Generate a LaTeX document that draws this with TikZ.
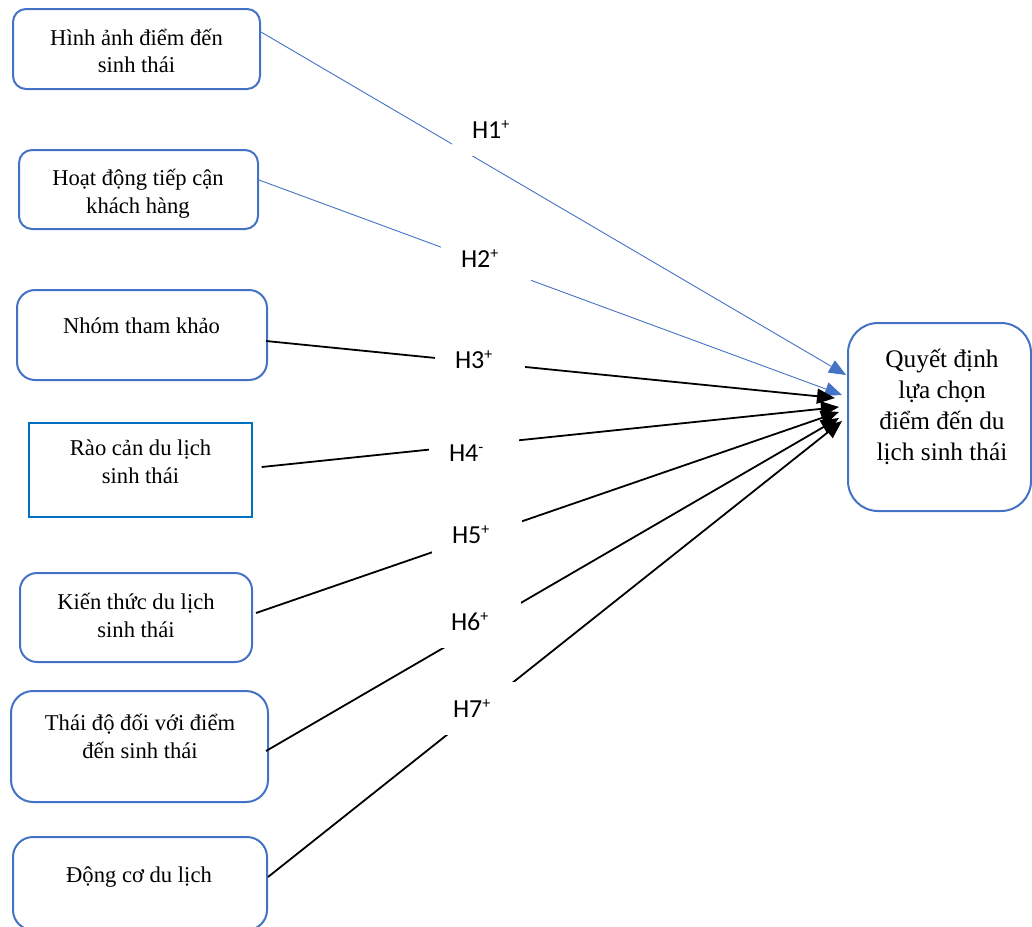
\documentclass[tikz,border=0pt]{standalone}
\usepackage{fontspec}
\setmainfont{Liberation Serif}
\newfontfamily\labfont{Carlito}
\usetikzlibrary{arrows.meta}
\definecolor{wblue}{HTML}{4472C4}
\definecolor{rblue}{HTML}{0070C0}
\newcommand{\supmark}[1]{\raisebox{9pt}{\fontsize{16}{16}\selectfont #1}}
\tikzset{
  box/.style={draw=wblue, line width=2pt, rounded corners=#1, inner sep=0pt},
  box/.default=15pt,
  sqbox/.style={draw=rblue, line width=1.4pt, inner sep=0pt},
  txt/.style={align=center, font=\fontsize{22.6}{27.7}\selectfont, inner sep=0pt, anchor=base},
  bigtxt/.style={align=center, font=\fontsize{25.3}{30.7}\selectfont, inner sep=0pt, anchor=base},
  lbl/.style={fill=white, minimum width=90pt, minimum height=53pt, text width=50pt, align=left,
              inner xsep=20pt, inner ysep=0pt, font=\labfont\fontsize{26}{28}\selectfont},
  blueline/.style={draw=wblue, line width=0.9pt, -{Triangle[length=17pt,width=14pt]}},
  blackline/.style={draw=black, line width=1.8pt, -{Triangle[length=18pt,width=15pt]}},
}
\begin{document}
\begin{tikzpicture}[x=1pt,y=-1pt]
\useasboundingbox (0,0) rectangle (1032,926);
% boxes
\node[box=13pt, minimum width=247pt, minimum height=80pt] (b1) at (136.5,49) {};
\node[box=13pt, minimum width=239pt, minimum height=79pt] (b2) at (138.5,189.5) {};
\node[box=18pt, minimum width=250pt, minimum height=90pt] (b3) at (142,335) {};
\node[sqbox, minimum width=223pt, minimum height=94pt] (b4) at (140.5,470) {};
\node[box=17pt, minimum width=232pt, minimum height=89pt] (b5) at (136,617.5) {};
\node[box=22pt, minimum width=257pt, minimum height=111pt] (b6) at (139.5,746.5) {};
\node[box=20pt, minimum width=254pt, minimum height=93pt] (b7) at (140,883.5) {};
\node[box=30pt, minimum width=183pt, minimum height=188pt] (q) at (939.5,417) {};
% texts (anchor base = baseline of last line)
\node[txt] (t1) at (136.5,72.7) {Hình ảnh điểm đến\\sinh thái};
\node[txt] (t2) at (138,213) {Hoạt động tiếp cận\\khách hàng};
\node[txt] (t3) at (141.5,333) {Nhóm tham khảo};
\node[txt] (t4) at (140.5,483) {Rào cản du lịch\\sinh thái};
\node[txt] (t5) at (136,637) {Kiến thức du lịch\\sinh thái};
\node[txt] (t6) at (140,758) {Thái độ đối với điểm\\đến sinh thái};
\node[txt] (t7) at (139,882) {Động cơ du lịch};
\node[bigtxt] (tq) at (942,460) {Quyết định\\lựa chọn\\điểm đến du\\lịch sinh thái};
% connectors
\draw[blueline] ([yshift=17pt]b1.east) -- ([xshift=-1pt,yshift=42pt]q.west);
\draw[blueline] ([yshift=9.5pt]b2.east) -- ([xshift=-5pt,yshift=22pt]q.west);
\draw[blackline] ([xshift=-2pt,yshift=-6pt]b3.east) -- ([xshift=-12pt,yshift=19pt]q.west);
\draw[blackline] ([xshift=9pt,yshift=3pt]b4.east) -- ([xshift=-8pt,yshift=10pt]q.west);
\draw[blackline] ([xshift=3pt,yshift=4.5pt]b5.east) -- ([xshift=-8pt,yshift=5pt]q.west);
\draw[blackline] ([xshift=-3pt,yshift=-4.5pt]b6.east) -- ([xshift=-8pt,yshift=-1pt]q.west);
\draw[blackline] ([yshift=6.5pt]b7.east) -- ([xshift=-5pt,yshift=-4pt]q.west);
% labels
\node[lbl] (h1) at (497,129.5) {H1\supmark{+}};
\node[lbl] (h2) at (486,258.5) {H2\supmark{+}};
\node[lbl] (h3) at (480,359.5) {H3\supmark{+}};
\node[lbl] (h4) at (474,453.5) {H4\supmark{-}};
\node[lbl] (h5) at (477,534.5) {H5\supmark{+}};
\node[lbl] (h6) at (476,621.5) {H6\supmark{+}};
\node[lbl] (h7) at (478,708.5) {H7\supmark{+}};
\end{tikzpicture}
\end{document}
